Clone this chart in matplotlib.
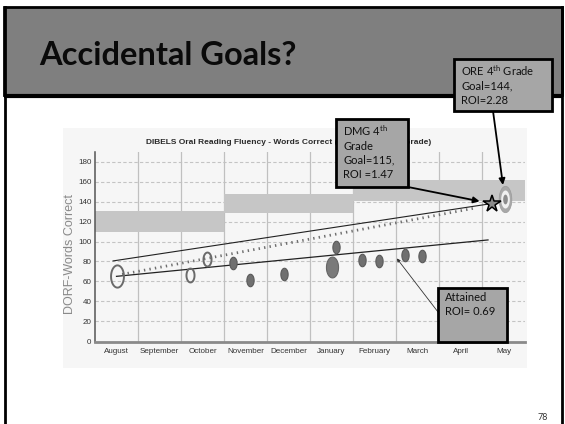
import numpy as np
import matplotlib
matplotlib.use("Agg")
import matplotlib.pyplot as plt
from matplotlib.patches import Rectangle
from matplotlib.path import Path

plt.rcParams['mathtext.fontset'] = 'custom'
plt.rcParams['mathtext.rm'] = 'Lato'
plt.rcParams['mathtext.it'] = 'Lato:italic'
plt.rcParams['mathtext.bf'] = 'Lato:bold'

# ---------------- data ----------------
months = ["August", "September", "October", "November", "December",
          "January", "February", "March", "April", "May"]
yticks = [0, 20, 40, 60, 80, 100, 120, 140, 160, 180]

# goal bands: (x start, x end, low, high)
band_x0 = [0, 3, 6]
band_x1 = [3, 6, 10]
band_lo = [110, 129, 141]
band_hi = [131, 148, 162]

open_x = [0.5, 2.2, 2.6]
open_y = [65, 66, 82]
open_big = [True, False, False]

fill_x = [3.2, 3.6, 4.4, 5.6, 6.2, 6.6, 7.2, 7.6]
fill_y = [78, 61, 67, 95, 81, 80, 86, 85]
big_fill_x = [5.5]
big_fill_y = [74]

star_x, star_y = 9.23, 138
target_x, target_y = 9.53, 143

upper_line_x = [0.42, 9.2]
upper_line_y = [80.5, 138]
aim_line_x = [0.63, 8.88]
aim_line_y = [67, 134]
trend_line_x = [0.5, 9.14]
trend_line_y = [65, 101.6]

attained_target = (7.02, 83)

NARROW = ["Liberation Sans", "DejaVu Sans"]

# ---------------- figure ----------------
W, H = 565, 424
fig = plt.figure(figsize=(W / 100, H / 100), dpi=100)
fig.patch.set_facecolor("white")

bg = fig.add_axes([0, 0, 1, 1], zorder=0)
bg.set_xlim(0, W)
bg.set_ylim(H, 0)
bg.axis("off")

# slide frame and header
bg.add_patch(Rectangle((4, 7), 558, 88, fc="#7f7f7f", ec="black", lw=2))
bg.plot([4, 562], [95.5, 95.5], color="black", lw=3, solid_capstyle="butt")
bg.plot([4.5, 4.5], [7, H], color="black", lw=2)
bg.plot([561.5, 561.5], [7, H], color="black", lw=2)
bg.text(39, 65, "Accidental Goals?", fontsize=23.5, fontweight="bold",
        family="Lato", color="#0a0a0a", va="baseline", ha="left")
bg.text(543, 418, "78", fontsize=6.5, family="Lato", color="#333333",
        ha="center", va="center")

# scanned chart background
bg.add_patch(Rectangle((63, 128), 464, 240, fc="#f6f6f6", ec="none"))
bg.text(289, 143, "DIBELS Oral Reading Fluency - Words Correct (Grade-Level 4th Grade)",
        fontsize=6.0, fontweight="bold", family=NARROW,
        color="#2a2a2a", ha="center", va="center")
bg.text(70, 254, "DORF-Words Correct", rotation=90, fontsize=9,
        family=NARROW, color="#8a8a8a", ha="center", va="center")

# ---------------- chart axes ----------------
x0, x1, ytop, ybot = 95, 525, 152, 342
ax = fig.add_axes([x0 / W, (H - ybot) / H, (x1 - x0) / W, (ybot - ytop) / H], zorder=1)
ax.patch.set_alpha(0)
ax.set_xlim(0, 10)
ax.set_ylim(-1, 190)

for a, b, lo, hi in zip(band_x0, band_x1, band_lo, band_hi):
    ax.fill_between([a, b], lo, hi, color="#c6c6c6", lw=0, zorder=1)

for yv in yticks[1:]:
    ax.axhline(yv, color="#c4c4c4", lw=0.8, ls=(0, (3, 2)), zorder=0.5)
for xv in range(1, 10):
    ax.axvline(xv, color="#c0c0c0", lw=0.9, zorder=0.6)

ax.plot(upper_line_x, upper_line_y, color="#222222", lw=0.8, zorder=3)
ax.plot(trend_line_x, trend_line_y, color="#222222", lw=0.9, zorder=3)
ax.plot(aim_line_x, aim_line_y, color="#6e6e6e", lw=2.0, ls=(0, (0.5, 1.5)), zorder=3)

th = np.linspace(0, 2 * np.pi, 80)
ell = Path(np.column_stack([0.58 * np.cos(th), np.sin(th)]), closed=True)
ell_wide = Path(np.column_stack([0.48 * np.cos(th), np.sin(th)]), closed=True)

for xv, yv, big in zip(open_x, open_y, open_big):
    ax.plot([xv], [yv], marker=ell, ms=16 if big else 10, mfc="none",
            mec="#6a6a6a", mew=1.4, ls="none", zorder=4)
ax.plot(fill_x, fill_y, marker=ell, ms=9, mfc="#707070", mec="#5a5a5a",
        mew=0.8, ls="none", zorder=4)
ax.plot(big_fill_x, big_fill_y, marker=ell, ms=15, mfc="#7a7a7a", mec="#666666",
        mew=0.8, ls="none", zorder=4)

# target (ORE goal)
ax.plot([target_x], [target_y], marker=ell_wide, ms=19, mfc="#a8a8a8", mec="#9a9a9a",
        mew=0.5, ls="none", zorder=4)
ax.plot([target_x], [target_y], marker=ell_wide, ms=13, mfc="#f0f0f0", mec="none",
        ls="none", zorder=4)
ax.plot([target_x], [target_y], marker=ell_wide, ms=7, mfc="#8c8c8c", mec="none",
        ls="none", zorder=4)
# star (DMG goal)
ax.plot([star_x], [star_y], marker="*", ms=13, mfc="#8a8a8a", mec="black",
        mew=1.1, ls="none", zorder=5)

ax.set_xticks(np.arange(len(months)) + 0.5)
ax.set_xticklabels(months, fontsize=5.8, family=NARROW, color="#333333")
ax.set_yticks(yticks)
ax.set_yticklabels([str(v) for v in yticks], fontsize=5.8, family=NARROW, color="#333333")
ax.tick_params(axis="y", length=0, pad=2.5)
ax.tick_params(axis="x", length=0, pad=4)
for s in ["top", "right"]:
    ax.spines[s].set_visible(False)
ax.spines["left"].set_color("#555555")
ax.spines["left"].set_linewidth(1.1)
ax.spines["bottom"].set_color("#8a8a8a")
ax.spines["bottom"].set_linewidth(2)

# ---------------- callout boxes ----------------
ov = fig.add_axes([0, 0, 1, 1], zorder=5)
ov.set_xlim(0, W)
ov.set_ylim(H, 0)
ov.axis("off")
ov.patch.set_alpha(0)

boxes = [
    (454, 59, 98, 52, "ORE 4$^{\\mathrm{th}}$ Grade\nGoal=144,\nROI=2.28"),
    (336, 119, 72, 68, "DMG 4$^{\\mathrm{th}}$\nGrade\nGoal=115,\nROI =1.47"),
    (438, 288, 69, 54, "Attained\nROI= 0.69"),
]
for bx, by, bw, bh, txt in boxes:
    ov.add_patch(Rectangle((bx, by), bw, bh, fc="#a6a6a6", ec="black", lw=2))
    ov.text(bx + 7, by + 4, txt, fontsize=8, family="Lato", color="#111111",
            ha="left", va="top", linespacing=1.35)

# arrows from boxes to the chart marks
ax.annotate("", xy=(target_x, target_y), xycoords="data",
            xytext=(493, H - 111), textcoords="figure pixels",
            arrowprops=dict(arrowstyle="-|>", color="black", lw=1.3,
                            shrinkA=0, shrinkB=10, mutation_scale=9),
            annotation_clip=False, zorder=6)
ax.annotate("", xy=(star_x, star_y), xycoords="data",
            xytext=(408, H - 187), textcoords="figure pixels",
            arrowprops=dict(arrowstyle="-|>", color="black", lw=1.3,
                            shrinkA=0, shrinkB=9, mutation_scale=9),
            annotation_clip=False, zorder=6)
ax.annotate("", xy=attained_target, xycoords="data",
            xytext=(438, H - 312), textcoords="figure pixels",
            arrowprops=dict(arrowstyle="-|>", color="#333333", lw=0.6,
                            shrinkA=0, shrinkB=0, mutation_scale=5),
            annotation_clip=False, zorder=6)

fig.savefig("out.png", dpi=100)
